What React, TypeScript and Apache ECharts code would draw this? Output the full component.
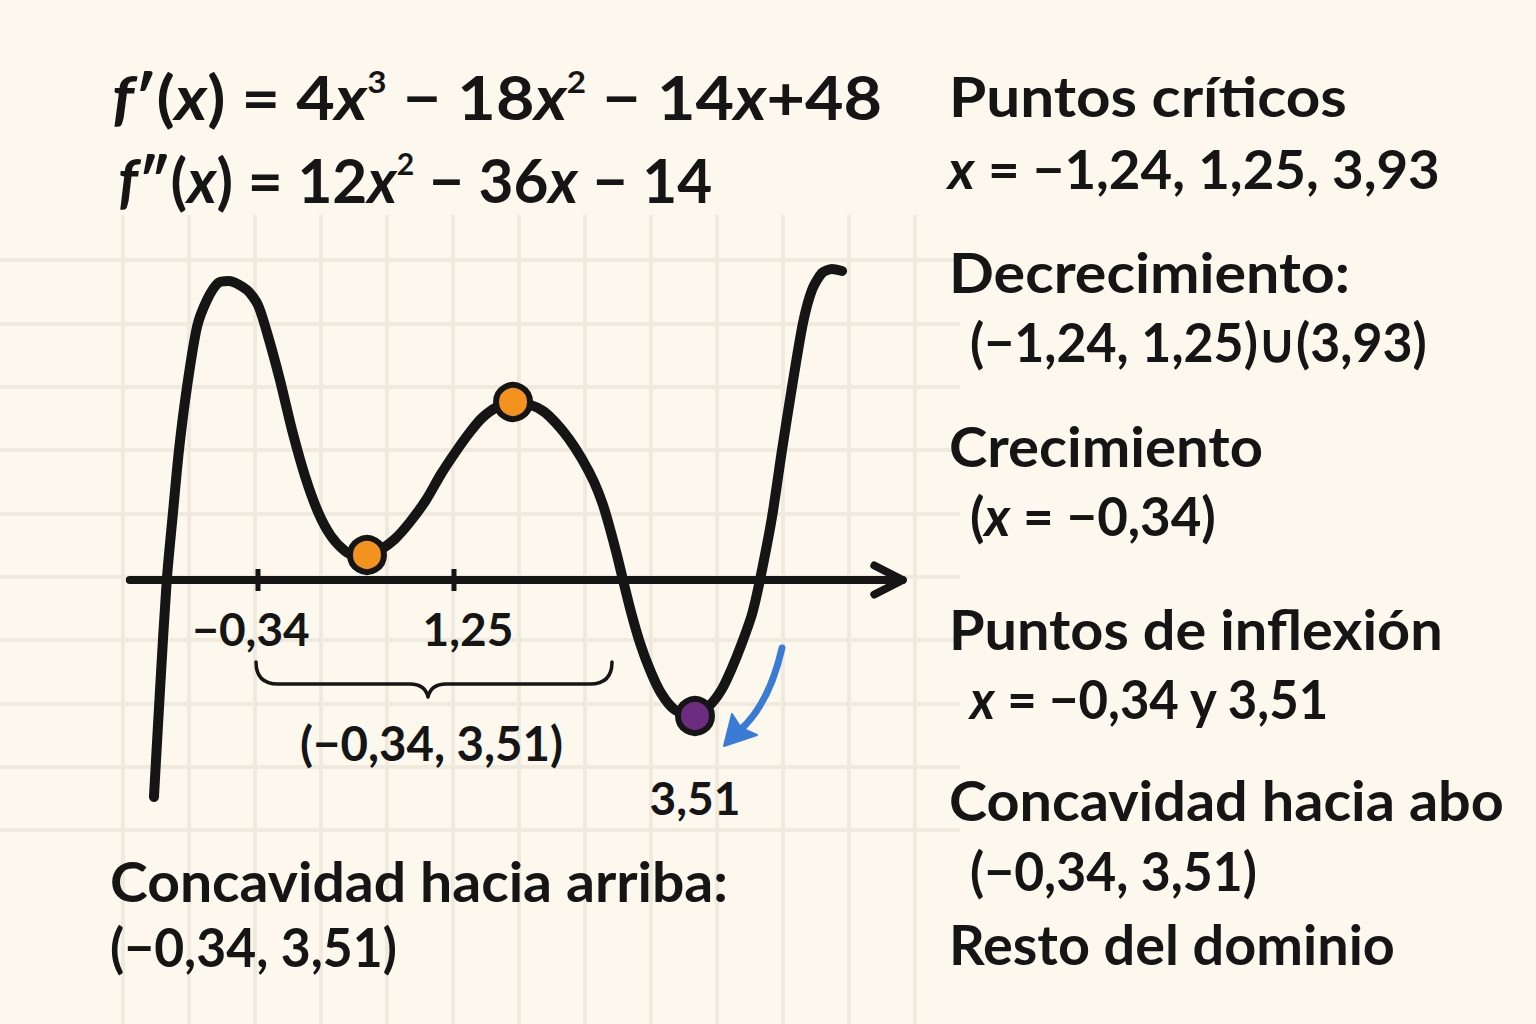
import React, { useEffect, useRef } from 'react';
import * as echarts from 'echarts';

// ---- data (x in function units, y in arbitrary plot units) ----
const CURVE_X = [-1.184, -1.135, -1.08, -1.03, -0.981, -0.916, -0.835, -0.754, -0.664, -0.575, -0.429, -0.34, -0.259, -0.162, -0.064, 0.041, 0.147, 0.252, 0.366, 0.471, 0.544, 0.65, 0.771, 0.893, 1.023, 1.145, 1.274, 1.38, 1.477, 1.599, 1.729, 1.85, 1.972, 2.077, 2.183, 2.288, 2.386, 2.459, 2.516, 2.572, 2.621, 2.686, 2.759, 2.84, 2.929, 3.043, 3.197, 3.327, 3.424, 3.505, 3.586, 3.668, 3.732, 3.83, 3.911, 3.992, 4.081, 4.154, 4.235, 4.316, 4.398];
const CURVE_Y = [-4.34, -2.2, 0, 1.34, 2.6, 3.86, 5.06, 5.6, 5.94, 5.98, 5.8, 5.5, 4.88, 4.0, 3.0, 2.08, 1.36, 0.88, 0.58, 0.46, 0.48, 0.6, 0.82, 1.16, 1.6, 2.12, 2.6, 2.96, 3.24, 3.46, 3.56, 3.52, 3.38, 3.14, 2.82, 2.42, 1.96, 1.5, 1.02, 0.5, 0, -0.64, -1.26, -1.8, -2.26, -2.6, -2.72, -2.5, -2.18, -1.76, -1.26, -0.68, 0, 1.26, 2.6, 3.86, 5.14, 5.8, 6.14, 6.22, 6.18];
const AXIS_X = [-1.38, 4.89];
const TICK_X = [-0.34, 1.25];
const TICK_LABELS = ['−0,34', '1,25'];
const CRITICAL_X = [0.544, 1.729];
const CRITICAL_Y = [0.5, 3.56];
const INFLECTION_X = [3.205];
const INFLECTION_Y = [-2.72];
const INFLECTION_LABELS = ['3,51'];

// ---- texts ----
type Tok = [string, 'b' | 'i' | 's'];
const EQ_FIRST: Tok[] = [['f', 'i'], ['′(', 'b'], ['x', 'i'], [') = 4', 'b'], ['x', 'i'], ['3', 's'], [' − 18', 'b'], ['x', 'i'], ['2', 's'], [' − 14', 'b'], ['x', 'i'], ['+48', 'b']];
const EQ_SECOND: Tok[] = [['f', 'i'], ['″(', 'b'], ['x', 'i'], [') = 12', 'b'], ['x', 'i'], ['2', 's'], [' − 36', 'b'], ['x', 'i'], [' − 14', 'b']];
const RIGHT_TEXTS: Tok[][] = [
  [['Puntos críticos', 'b']],
  [['x', 'i'], [' = −1,24, 1,25, 3,93', 'b']],
  [['Decrecimiento:', 'b']],
  [['(−1,24, 1,25)∪(3,93)', 'b']],
  [['Crecimiento', 'b']],
  [['(', 'b'], ['x', 'i'], [' = −0,34)', 'b']],
  [['Puntos de inflexión', 'b']],
  [['x', 'i'], [' = −0,34 y 3,51', 'b']],
  [['Concavidad hacia abo', 'b']],
  [['(−0,34, 3,51)', 'b']],
  [['Resto del dominio', 'b']],
];
const BOTTOM_TEXTS: Tok[][] = [
  [['Concavidad hacia arriba:', 'b']],
  [['(−0,34, 3,51)', 'b']],
];
const BRACE_TEXT: Tok[] = [['(−0,34, 3,51)', 'b']];

const FONT = 'Lato';
const INK = '#151515';
const BG = '#fcf8ee';
const GRIDLINE = '#efe9de';
const BLUE = '#3a7bd5';

let measureCtx: CanvasRenderingContext2D | null = null;
function fitText(tokens: Tok[], left: number, right: number, cy: number, size: number, weight = 700) {
  const rich: any = {
    b: { fontFamily: FONT, fontWeight: weight, fontSize: size, fill: INK },
    i: { fontFamily: FONT, fontWeight: weight, fontStyle: 'italic', fontSize: size, fill: INK },
    s: { fontFamily: FONT, fontWeight: weight, fontSize: Math.round(size * 0.5), fill: INK, verticalAlign: 'top' },
  };
  if (!measureCtx) measureCtx = document.createElement('canvas').getContext('2d');
  let w = 0;
  for (const [t, k] of tokens) {
    const r = rich[k];
    measureCtx!.font = `${r.fontStyle || 'normal'} ${r.fontWeight} ${r.fontSize}px ${FONT}`;
    w += measureCtx!.measureText(t).width;
  }
  const scale = w > 0 ? (right - left) / w : 1;
  return {
    type: 'text',
    x: left,
    y: cy,
    z: 50,
    scaleX: scale,
    silent: true,
    style: {
      text: tokens.map(([t, k]) => `{${k}|${t}}`).join(''),
      rich,
      align: 'left',
      verticalAlign: 'middle',
      fill: INK,
      fontFamily: FONT,
      fontWeight: weight,
      fontSize: size,
    },
  };
}

const BRACE_D = 'M256 662 Q256 684 278 684 L410 684 Q425 684 428 697 Q431 684 446 684 L590 684 Q612 684 612 662';
let braceRegistered = false;

export default function App() {
  const ref = useRef<HTMLDivElement>(null);
  useEffect(() => {
    if (!ref.current) return;
    if (!braceRegistered) {
      echarts.graphic.registerShape('brace', echarts.graphic.extendPath(BRACE_D, {}) as any);
      braceRegistered = true;
    }
    const chart = echarts.init(ref.current, null, { renderer: 'svg' });

    const curve = CURVE_X.map((x, i) => [x, CURVE_Y[i]]);
    const axisEnd = AXIS_X[1];

    const rightLayout = [
      [949, 1347, 95, 56],
      [948, 1440, 168, 54],
      [949, 1350, 271, 56],
      [970, 1427, 341, 54],
      [949, 1263, 445, 56],
      [970, 1216, 515, 54],
      [949, 1443, 628, 56],
      [970, 1331, 698, 54],
      [949, 1504, 799, 56],
      [970, 1257, 870, 54],
      [949, 1395, 943, 56],
    ];
    const bottomLayout = [
      [110, 728, 880, 56],
      [110, 397, 946, 54],
    ];

    const graphics: any[] = [
      fitText(EQ_FIRST, 112, 882, 96, 62),
      fitText(EQ_SECOND, 118, 712, 179, 62),
      ...RIGHT_TEXTS.map((t, i) => fitText(t, rightLayout[i][0], rightLayout[i][1], rightLayout[i][2], rightLayout[i][3])),
      ...BOTTOM_TEXTS.map((t, i) => fitText(t, bottomLayout[i][0], bottomLayout[i][1], bottomLayout[i][2], bottomLayout[i][3])),
      fitText(BRACE_TEXT, 300, 563, 742, 48),
      { type: 'brace', x: 0, y: 0, z: 50, silent: true, style: { stroke: INK, lineWidth: 3.5, fill: null, lineCap: 'round', lineJoin: 'round' } },
      { type: 'bezierCurve', z: 50, silent: true, shape: { x1: 782, y1: 648, cpx1: 769, cpy1: 705, x2: 739, y2: 731 }, style: { stroke: BLUE, lineWidth: 7, fill: null, lineCap: 'round' } },
      { type: 'polygon', z: 50, silent: true, shape: { points: [[724, 746], [732, 714], [741, 728], [757, 735]] }, style: { fill: BLUE, stroke: BLUE, lineWidth: 2, lineJoin: 'round' } },
    ];

    const hiddenParts = { axisLine: { show: false }, axisTick: { show: false }, axisLabel: { show: false } };

    chart.setOption({
      animation: false,
      backgroundColor: BG,
      grid: [
        { left: 53.37, right: 619.74, top: 180, bottom: 44 },
        { left: 0, width: 960, top: 260, height: 570 },
        { left: 123, width: 792, top: 215, bottom: 0 },
      ],
      xAxis: [
        { gridIndex: 0, type: 'value', min: -2, max: 5, show: false },
        { gridIndex: 1, type: 'value', min: 0, max: 1, ...hiddenParts, splitLine: { show: false } },
        { gridIndex: 2, type: 'value', min: 0, max: 12, interval: 1, ...hiddenParts, splitLine: { show: true, lineStyle: { color: GRIDLINE, width: 4 } } },
      ],
      yAxis: [
        { gridIndex: 0, type: 'value', min: -8, max: 8, show: false },
        { gridIndex: 1, type: 'value', min: 0, max: 9, interval: 1, ...hiddenParts, splitLine: { show: true, lineStyle: { color: GRIDLINE, width: 4 } } },
        { gridIndex: 2, type: 'value', min: 0, max: 1, ...hiddenParts, splitLine: { show: false } },
      ],
      series: [
        {
          type: 'line', xAxisIndex: 0, yAxisIndex: 0, z: 2, symbol: 'none', silent: true,
          data: [[AXIS_X[0], 0], [axisEnd, 0]],
          lineStyle: { color: INK, width: 8, cap: 'round' },
        },
        {
          type: 'line', xAxisIndex: 0, yAxisIndex: 0, z: 2, symbol: 'none', silent: true,
          data: [[axisEnd - 0.23, 0.29], [axisEnd, 0], [axisEnd - 0.23, -0.29]],
          lineStyle: { color: INK, width: 8, cap: 'round', join: 'round' },
        },
        {
          type: 'scatter', xAxisIndex: 0, yAxisIndex: 0, z: 3, silent: true,
          symbol: 'rect', symbolSize: [5, 22],
          itemStyle: { color: INK, opacity: 1 },
          data: TICK_X.map((x, i) => ({
            value: [x, 0],
            label: { offset: [i === 0 ? -7 : 14, 48] },
          })),
          label: {
            show: true, position: 'inside',
            formatter: (p: any) => TICK_LABELS[p.dataIndex],
            color: INK, fontFamily: FONT, fontWeight: 700, fontSize: 46, opacity: 1,
          },
        },
        {
          type: 'line', xAxisIndex: 0, yAxisIndex: 0, z: 4, symbol: 'none', silent: true,
          smooth: 0.25,
          data: curve,
          lineStyle: { color: INK, width: 10, cap: 'round', join: 'round' },
        },
        {
          type: 'scatter', xAxisIndex: 0, yAxisIndex: 0, z: 5, silent: true,
          symbolSize: 34,
          itemStyle: { color: '#f3921f', borderColor: INK, borderWidth: 6, opacity: 1 },
          data: CRITICAL_X.map((x, i) => [x, CRITICAL_Y[i]]),
        },
        {
          type: 'scatter', xAxisIndex: 0, yAxisIndex: 0, z: 5, silent: true,
          symbolSize: 34,
          itemStyle: { color: '#6c2d80', borderColor: INK, borderWidth: 6, opacity: 1 },
          data: INFLECTION_X.map((x, i) => [x, INFLECTION_Y[i]]),
          label: {
            show: true, position: 'inside', offset: [0, 81],
            formatter: (p: any) => INFLECTION_LABELS[p.dataIndex],
            color: INK, fontFamily: FONT, fontWeight: 700, fontSize: 46, opacity: 1,
          },
        },
      ],
      graphic: graphics,
    });

    return () => chart.dispose();
  }, []);

  return <div ref={ref} style={{ position: 'fixed', left: 0, top: 0, width: 1536, height: 1024 }} />;
}
